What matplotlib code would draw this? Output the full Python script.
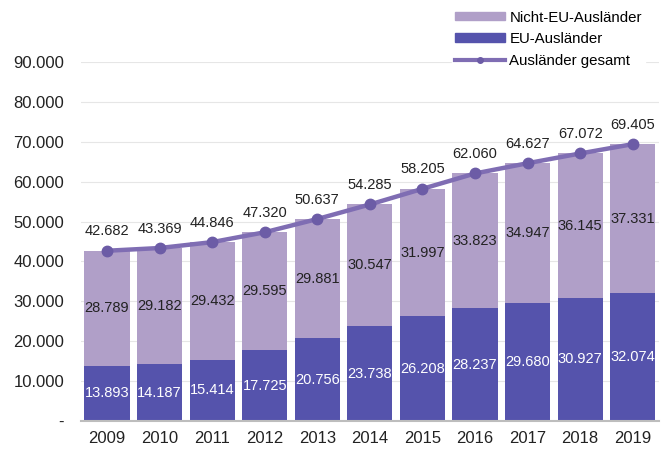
import numpy as np
import matplotlib.pyplot as plt
import matplotlib.patches as mpatches
from matplotlib.lines import Line2D

plt.rcParams['font.family'] = ['Liberation Sans', 'DejaVu Sans']

years = ['2009', '2010', '2011', '2012', '2013', '2014', '2015', '2016', '2017', '2018', '2019']
eu = [13893, 14187, 15414, 17725, 20756, 23738, 26208, 28237, 29680, 30927, 32074]
non_eu = [28789, 29182, 29432, 29595, 29881, 30547, 31997, 33823, 34947, 36145, 37331]
total = [42682, 43369, 44846, 47320, 50637, 54285, 58205, 62060, 64627, 67072, 69405]

C_NON = '#B09FC8'
C_EU = '#5553AC'
C_LINE = '#7F6DB3'
C_MARK = '#6C5CA6'

def fmt(v):
    return f"{v:,}".replace(',', '.')

fig = plt.figure(figsize=(6.67, 4.51), dpi=100)
ax = fig.add_axes([0.121, 0.0665, 0.867, 0.796])
x = np.arange(len(years))

ax.bar(x, eu, width=0.86, color=C_EU, zorder=2)
ax.bar(x, non_eu, width=0.86, bottom=eu, color=C_NON, zorder=2)
ax.plot(x, total, color=C_LINE, lw=3.2, marker='o', ms=7.5, mfc=C_MARK, mec=C_MARK, zorder=3)

for i in range(len(years)):
    ax.text(x[i], eu[i] / 2, fmt(eu[i]), ha='center', va='center', color='white', fontsize=10.5, zorder=4)
    ax.text(x[i], eu[i] + non_eu[i] / 2, fmt(non_eu[i]), ha='center', va='center', color='#222222', fontsize=10.5, zorder=4)
    ax.annotate(fmt(total[i]), (x[i], total[i]), xytext=(0, 9), textcoords='offset points',
                ha='center', va='bottom', color='#222222', fontsize=10.5, zorder=4)

ax.set_xlim(-0.5, 10.5)
ax.set_ylim(0, 90000)
yt = np.arange(0, 90001, 10000)
ax.set_yticks(yt)
ax.set_yticklabels(['-'] + [fmt(v) for v in yt[1:]], fontsize=12, color='#222222')
ax.set_xticks(x)
ax.set_xticklabels(years, fontsize=12, color='#222222')
ax.tick_params(axis='y', length=0, pad=12)
ax.tick_params(axis='x', length=0, pad=7)
ax.grid(axis='y', color='#E6E6E6', lw=0.8, zorder=0)
for s in ['top', 'right', 'left']:
    ax.spines[s].set_visible(False)
ax.spines['bottom'].set_color('#BDBDBD')
ax.spines['bottom'].set_linewidth(1.5)

handles = [mpatches.Patch(color=C_NON, label='Nicht-EU-Ausländer'),
           mpatches.Patch(color=C_EU, label='EU-Ausländer'),
           Line2D([0], [0], color=C_LINE, lw=3, marker='o', ms=4, mfc=C_MARK, mec=C_MARK,
                  label='Ausländer gesamt')]
leg = fig.legend(handles=handles, loc='upper right', bbox_to_anchor=(0.978, 1.0), frameon=True,
                 fontsize=10.8, handlelength=3.3, handleheight=0.5, handletextpad=0.3,
                 labelspacing=0.5, borderpad=0.2, edgecolor='white', fancybox=False)
leg.get_frame().set_facecolor('white')
leg.get_frame().set_alpha(1)

plt.savefig('out.png', dpi=100)
